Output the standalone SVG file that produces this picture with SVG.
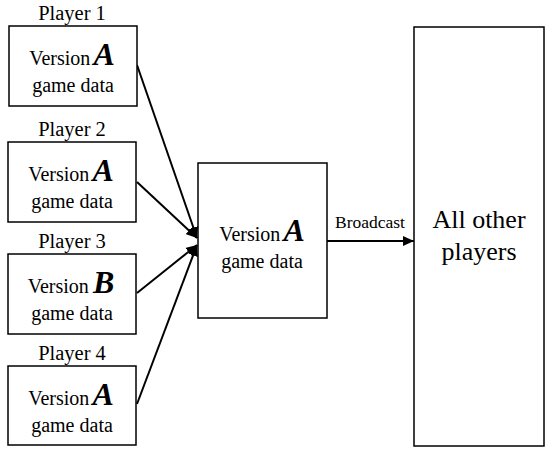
<svg xmlns="http://www.w3.org/2000/svg" width="551" height="454" viewBox="0 0 551 454">
<style>
.box{fill:#fff;stroke:#000;stroke-width:1.5}
.t{font-family:'Liberation Serif','Times New Roman',serif;fill:#000;text-anchor:middle}
.lbl{font-size:20px}
.pl{font-size:20.5px}
.big{font-size:32px;font-weight:bold;font-style:italic}
.bc{font-size:17.5px}
.oth{font-size:26px}
.c{stroke:#000;stroke-width:2;fill:none}
</style>
<defs>
<marker id="ah" markerUnits="userSpaceOnUse" markerWidth="12" markerHeight="10" refX="11" refY="5" orient="auto">
<path d="M0,0 L11,5 L0,10 Z" fill="#000"/>
</marker>
</defs>
<rect width="551" height="454" fill="#fff"/>
<g id="connectors">
<line class="c" x1="137" y1="65" x2="197" y2="238" marker-end="url(#ah)"/>
<line class="c" x1="137" y1="182" x2="197" y2="238" marker-end="url(#ah)"/>
<line class="c" x1="137" y1="293" x2="197" y2="245" marker-end="url(#ah)"/>
<line class="c" x1="137" y1="404" x2="197" y2="245" marker-end="url(#ah)"/>
<line class="c" x1="327" y1="241" x2="414" y2="241" marker-end="url(#ah)"/>
<text class="t bc" x="370" y="228">Broadcast</text>
</g>
<g id="player1">
<text class="t pl" x="72" y="20">Player 1</text>
<rect class="box" x="9" y="26" width="128" height="80"/>
<text class="t lbl" x="72" y="65">Version<tspan class="big" dx="3">A</tspan></text>
<text class="t lbl" x="73" y="92">game data</text>
</g>
<g id="player2">
<text class="t pl" x="72" y="136">Player 2</text>
<rect class="box" x="8" y="142" width="128" height="80"/>
<text class="t lbl" x="71" y="181">Version<tspan class="big" dx="3">A</tspan></text>
<text class="t lbl" x="72" y="208">game data</text>
</g>
<g id="player3">
<text class="t pl" x="72" y="248">Player 3</text>
<rect class="box" x="8" y="254" width="128" height="80"/>
<text class="t lbl" x="71" y="293">Version<tspan class="big" dx="4">B</tspan></text>
<text class="t lbl" x="72" y="320">game data</text>
</g>
<g id="player4">
<text class="t pl" x="72" y="360">Player 4</text>
<rect class="box" x="8" y="366" width="128" height="79"/>
<text class="t lbl" x="71" y="405">Version<tspan class="big" dx="3">A</tspan></text>
<text class="t lbl" x="72" y="432">game data</text>
</g>
<g id="server">
<rect class="box" x="198" y="163" width="129" height="155"/>
<text class="t lbl" x="262" y="241">Version<tspan class="big" dx="3">A</tspan></text>
<text class="t lbl" x="262" y="268">game data</text>
</g>
<g id="others">
<rect class="box" x="414" y="27" width="130" height="419"/>
<text class="t oth" x="479" y="228">All other</text>
<text class="t oth" x="479" y="260">players</text>
</g>
</svg>
